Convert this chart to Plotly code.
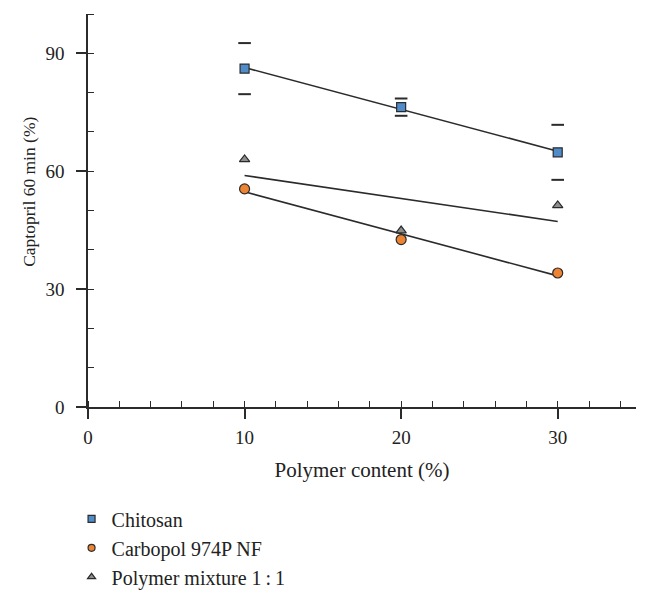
import numpy as np
import plotly.graph_objects as go

polymer_content = [10, 20, 30]
chitosan = [86.1, 76.3, 64.8]
chitosan_err = [6.5, 2.2, 7.0]
carbopol = [55.5, 42.6, 34.1]
mixture = [63.0, 44.9, 51.3]

x_ticks = [0, 10, 20, 30]
y_ticks = [0, 30, 60, 90]

FONT = "Liberation Serif"
DARK = "#2b2b2b"

series = [
    ("Chitosan", chitosan, "square", 9, "#4f8cc9"),
    ("Carbopol 974P NF", carbopol, "circle", 10, "#ec8433"),
    ("Polymer mixture 1\u2009:\u20091", mixture, "triangle-up", 9, "#8e8e8e"),
]

fig = go.Figure()

# regression lines
xs = np.array(polymer_content, dtype=float)
for _, ys, _, _, _ in series:
    k, b = np.polyfit(xs, np.array(ys, dtype=float), 1)
    xl = np.array([xs.min(), xs.max()])
    fig.add_trace(go.Scatter(x=xl, y=k * xl + b, mode="lines",
                             line=dict(color=DARK, width=1.6),
                             showlegend=False, hoverinfo="skip"))

# error caps (no stems)
caps_x = polymer_content + polymer_content
caps_y = [m + e for m, e in zip(chitosan, chitosan_err)] + [m - e for m, e in zip(chitosan, chitosan_err)]
fig.add_trace(go.Scatter(x=caps_x, y=caps_y, mode="markers",
                         marker=dict(symbol="line-ew", size=9,
                                     line=dict(color=DARK, width=2)),
                         showlegend=False, hoverinfo="skip"))

for name, ys, sym, size, col in series:
    fig.add_trace(go.Scatter(x=polymer_content, y=ys, mode="markers", name=name,
                             showlegend=False,
                             marker=dict(symbol=sym, size=size, color=col,
                                         line=dict(color=DARK, width=1.2))))
# legend entries with small symbols
for i, (name, ys, sym, size, col) in enumerate(series):
    fig.add_trace(go.Scatter(x=[None], y=[None], mode="markers", name=name,
                             legendgroup=f"g{i}",
                             marker=dict(symbol=sym, size=7, color=col,
                                         line=dict(color=DARK, width=1.2))))

fig.update_layout(
    width=647, height=604,
    margin=dict(l=88, r=11, t=14, b=197, autoexpand=False),
    plot_bgcolor="white", paper_bgcolor="white",
    font=dict(family=FONT, size=19, color="#222"),
    legend=dict(x=-0.03, xanchor="left", y=-0.235, yanchor="top",
                orientation="v", font=dict(size=20), tracegroupgap=0,
                bgcolor="rgba(0,0,0,0)"),
    showlegend=True,
    annotations=[dict(text="Captopril 60 min (%)", textangle=-90, showarrow=False,
                      xref="paper", yref="paper", x=-0.108, y=0.547,
                      xanchor="center", yanchor="middle",
                      font=dict(size=17.5, family=FONT, color="#222"))],
)
fig.update_xaxes(range=[0, 35], tickvals=x_ticks, ticks="outside", ticklen=10, tickwidth=1.5,
                 tickcolor=DARK, showline=True, linecolor=DARK, linewidth=1.5,
                 showgrid=False, zeroline=False, automargin=False,
                 tickfont=dict(size=19), ticklabelstandoff=2,
                 minor=dict(dtick=2, ticks="inside", ticklen=6, tickwidth=1.2, tickcolor=DARK, showgrid=False),
                 title=dict(text="Polymer content (%)", font=dict(size=21), standoff=16))
fig.update_yaxes(range=[0, 100], tickvals=y_ticks, ticks="outside", ticklen=10, tickwidth=1.5,
                 tickcolor=DARK, showline=True, linecolor=DARK, linewidth=1.5,
                 showgrid=False, zeroline=False, automargin=False,
                 tickfont=dict(size=19), ticklabelstandoff=8,
                 minor=dict(dtick=10, ticks="inside", ticklen=6, tickwidth=1.2, tickcolor=DARK, showgrid=False))

fig.write_html("out.html", config={"displayModeBar": False},
               post_script="document.body.style.margin='0px';")
